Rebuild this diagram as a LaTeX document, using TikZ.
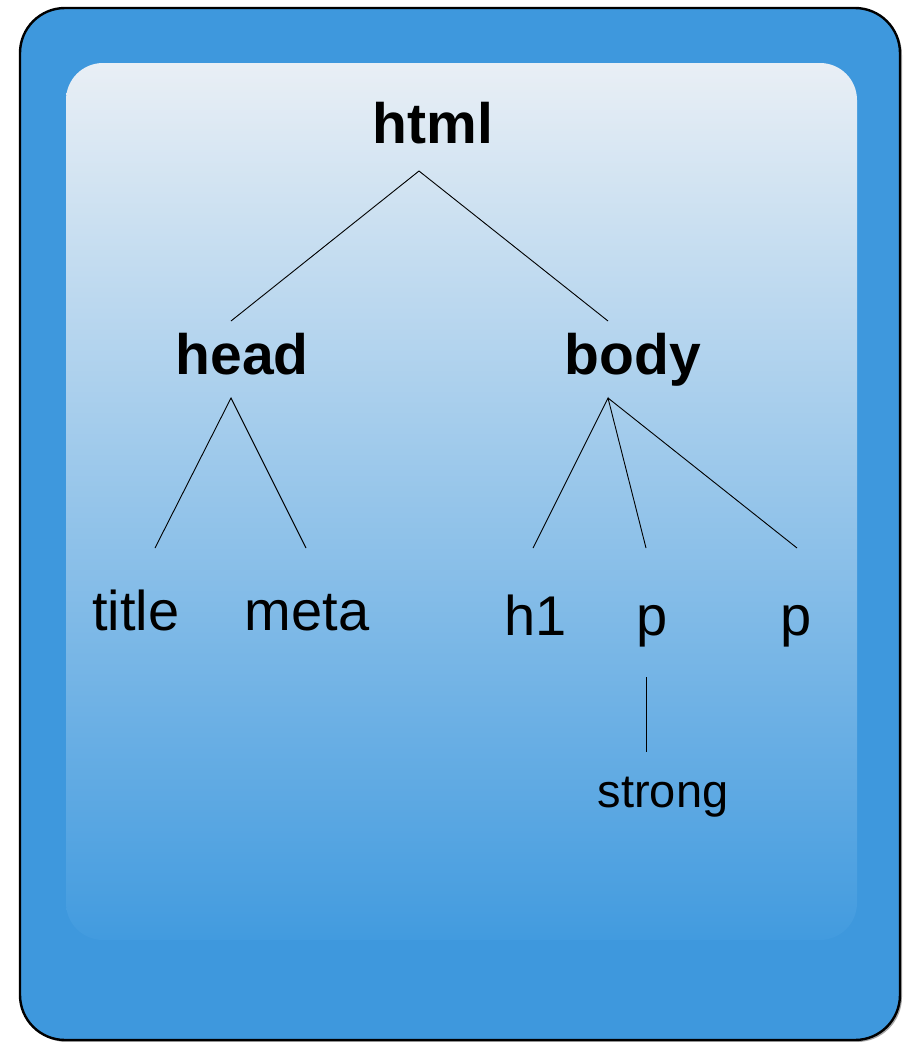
\documentclass[tikz,border=0pt]{standalone}
\usepackage{fontspec}
\setmainfont{Liberation Sans}
\definecolor{outerblue}{RGB}{62,152,221}
\definecolor{innertop}{RGB}{233,239,245}
\definecolor{innerbot}{RGB}{66,155,223}
\begin{document}
\begin{tikzpicture}[x=1pt,y=-1pt,
  big/.style={anchor=base,inner sep=0pt,font=\fontsize{57}{60}\selectfont\bfseries},
  leaf/.style={anchor=base,inner sep=0pt,font=\fontsize{56}{60}\selectfont},
  small/.style={anchor=base,inner sep=0pt,font=\fontsize{47}{50}\selectfont},
  edge/.style={draw=black,line width=0.9pt}]
\useasboundingbox (0,0) rectangle (904,1042);
% outer frame with slight shadow
\fill[black!35,rounded corners=45pt] (22,10) rectangle (902,1042);
\filldraw[fill=outerblue,draw=black,line width=2.4pt,rounded corners=45pt] (20,8) rectangle (900,1040);
% inner gradient panel
\shade[top color=innertop,bottom color=innerbot,rounded corners=37pt] (66,63) rectangle (857,940);
% labels
\node[big] (html) at (433,143) {html};
\node[big] (head) at (242,374) {head};
\node[big] (body) at (633,374) {body};
\node[leaf] (title) at (136,630) {title};
\node[leaf] (meta) at (307,630) {meta};
\node[leaf] (h1) at (536,635) {h1};
\node[leaf] (p1) at (652,635) {p};
\node[leaf] (p2) at (796,635) {p};
\node[small] (strong) at (663,807) {strong};
% connector end points
\coordinate (html-b) at (419,171);
\coordinate (head-t) at (231,321);
\coordinate (body-t) at (608,321);
\coordinate (head-b) at (231,398);
\coordinate (body-b) at (608,398);
\coordinate (title-t) at (155,548);
\coordinate (meta-t) at (306,548);
\coordinate (h1-t) at (533,548);
\coordinate (p1-t) at (646,548);
\coordinate (p2-t) at (797,548);
\coordinate (p1-b) at (646,677);
\coordinate (strong-t) at (646,752);
% connectors
\draw[edge] (head-t) -- (html-b) -- (body-t);
\draw[edge] (title-t) -- (head-b) -- (meta-t);
\draw[edge] (h1-t) -- (body-b) -- (p1-t);
\draw[edge] (body-b) -- (p2-t);
\draw[edge] (p1-b) -- (strong-t);
\end{tikzpicture}
\end{document}
